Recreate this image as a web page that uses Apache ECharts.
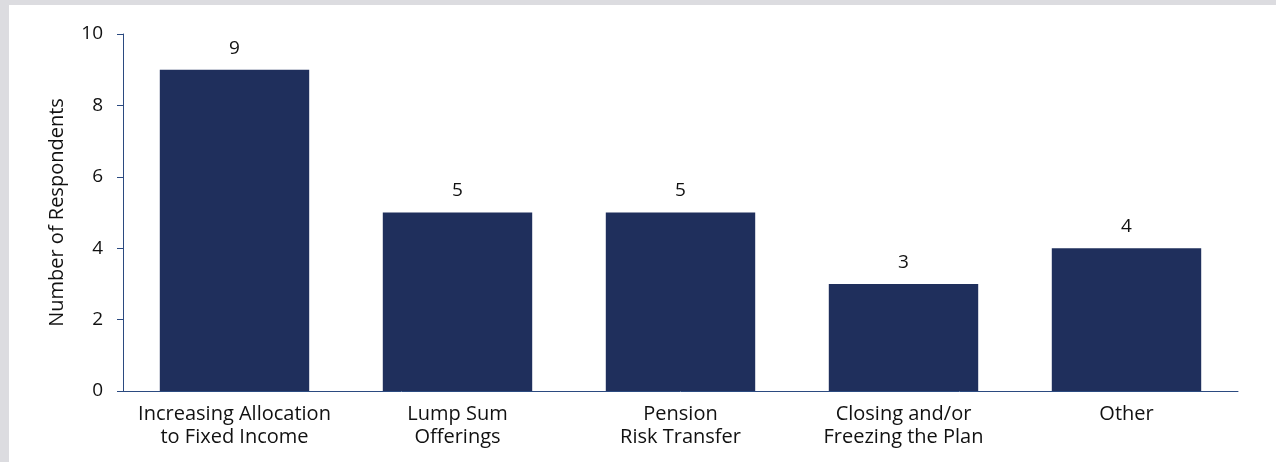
<!DOCTYPE html>
<html>
<head>
<meta charset="utf-8">
<script src="https://cdn.jsdelivr.net/npm/echarts@6/dist/echarts.min.js"></script>
<style>
  html, body { margin: 0; padding: 0; background: #dcdce0; }
  #frame { position: absolute; left: 9px; top: 5px; right: 0; bottom: 0; background: #ffffff; }
  #chart { position: absolute; left: -9px; top: -5px; width: 1276px; height: 462px; }
</style>
</head>
<body>
<div id="frame"><div id="chart"></div></div>
<script>
// Strategies reported by respondents
const categories = [
  'Increasing Allocation\nto Fixed Income',
  'Lump Sum\nOfferings',
  'Pension\nRisk Transfer',
  'Closing and/or\nFreezing the Plan',
  'Other'
];
const respondents = [9, 5, 5, 3, 4];
const yTicks = { min: 0, max: 10, interval: 2 };

const fontFamily = '"Open Sans", "Noto Sans", sans-serif';
const axisColor = '#2b4a80';
const barColor = '#1f2f5c';

const chart = echarts.init(document.getElementById('chart'), null, { renderer: 'canvas' });
chart.setOption({
  animation: false,
  backgroundColor: 'transparent',
  grid: { left: 123, right: 38, top: 34, bottom: 71, containLabel: false },
  xAxis: {
    type: 'category',
    data: categories,
    axisLine: { show: true, lineStyle: { color: axisColor, width: 1 } },
    axisTick: { show: false },
    axisLabel: {
      color: '#111111', fontFamily, fontSize: 20, lineHeight: 23, margin: 12, interval: 0
    }
  },
  yAxis: {
    type: 'value',
    min: yTicks.min, max: yTicks.max, interval: yTicks.interval,
    name: 'Number of Respondents',
    nameLocation: 'middle',
    nameGap: 56,
    nameTextStyle: { color: '#111111', fontFamily, fontSize: 20 },
    axisLine: { show: true, lineStyle: { color: axisColor, width: 1 } },
    axisTick: { show: true, length: 6, lineStyle: { color: axisColor } },
    axisLabel: { color: '#111111', fontFamily, fontSize: 19, margin: 20 },
    splitLine: { show: false }
  },
  series: [{
    type: 'bar',
    data: respondents,
    barWidth: '67%',
    itemStyle: { color: barColor },
    label: {
      show: true, position: 'top', distance: 12,
      color: '#111111', fontFamily, fontSize: 19
    }
  }]
});
</script>
</body>
</html>
